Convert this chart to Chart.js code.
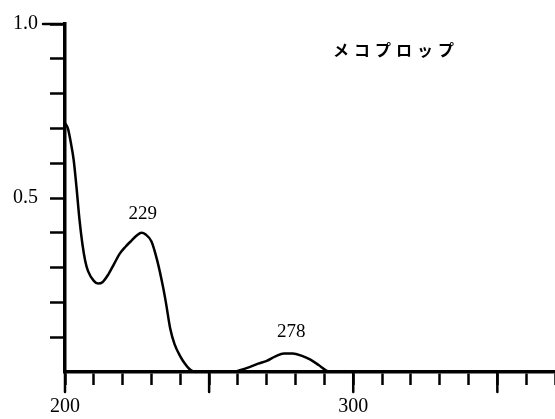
<!DOCTYPE html>
<html>
<head>
<meta charset="utf-8">
<script src="https://cdn.jsdelivr.net/npm/chart.js@4/dist/chart.umd.min.js"></script>
<style>
  html, body { margin: 0; padding: 0; background: #fff; }
  #wrap { width: 555px; height: 419px; position: relative; }
</style>
</head>
<body>
<div id="wrap"><canvas id="spectrum"></canvas></div>
<script>
// wavelength (nm) and absorbance
const wavelengths = [200, 201, 202, 203, 204, 205, 206, 207, 208, 210, 211.5, 213, 215, 217, 219, 221, 223, 225, 226.5, 228, 230, 232, 234, 235, 236.5, 238, 240, 241.5, 243, 245, 258, 261, 264, 267, 270, 273, 276, 279, 282, 285, 288, 290.5, 292, 370];
const absorbance  = [0.715, 0.70, 0.66, 0.61, 0.53, 0.44, 0.37, 0.32, 0.29, 0.262, 0.254, 0.258, 0.28, 0.31, 0.34, 0.36, 0.377, 0.393, 0.40, 0.395, 0.375, 0.32, 0.245, 0.20, 0.125, 0.08, 0.045, 0.025, 0.01, 0, 0, 0.006, 0.014, 0.024, 0.032, 0.045, 0.053, 0.053, 0.047, 0.036, 0.02, 0.005, 0, 0];

const peakLabels = ["229", "278"];
const peakLabelX = [227, 278.5];
const peakLabelY = [0.453, 0.114];

const compoundName = "メコプロップ";
const xLabeled = [200, 300];
const yLabeled = [0.5, 1.0];
const xLongTicks = [200, 250, 300, 350];

const ink = "#000";
const serif = "'Liberation Serif', 'DejaVu Serif', serif";

const points = wavelengths.map((w, i) => ({ x: w, y: absorbance[i] }));

// extra marks: longer ticks, peak labels, compound name
const extras = {
  id: "extras",
  afterDraw(chart) {
    const ctx = chart.ctx;
    const xs = chart.scales.x, ys = chart.scales.y;
    const area = chart.chartArea;
    ctx.save();
    ctx.strokeStyle = ink;
    ctx.lineWidth = 2.5;
    ctx.lineCap = "round";
    // long x ticks
    xLongTicks.forEach(v => {
      const px = xs.getPixelForValue(v);
      ctx.beginPath();
      ctx.moveTo(px, area.bottom);
      ctx.lineTo(px, area.bottom + 20);
      ctx.stroke();
    });
    // corner tick at 1.0
    const top = ys.getPixelForValue(1.0);
    ctx.beginPath();
    ctx.moveTo(area.left, top);
    ctx.lineTo(area.left - 22, top);
    ctx.stroke();

    ctx.fillStyle = ink;
    ctx.textAlign = "center";
    ctx.textBaseline = "middle";
    ctx.font = "19px " + serif;
    peakLabels.forEach((t, i) => {
      ctx.fillText(t, xs.getPixelForValue(peakLabelX[i]), ys.getPixelForValue(peakLabelY[i]));
    });

    ctx.font = "bold 16px 'Noto Sans CJK JP', sans-serif";
    ctx.letterSpacing = "5px";
    ctx.textAlign = "left";
    ctx.fillText(compoundName, 333, 50);
    ctx.restore();
  }
};

new Chart(document.getElementById("spectrum"), {
  type: "line",
  data: {
    datasets: [{
      data: points,
      borderColor: ink,
      borderWidth: 2.5,
      pointRadius: 0,
      fill: false,
      cubicInterpolationMode: "monotone"
    }]
  },
  options: {
    responsive: true,
    maintainAspectRatio: false,
    animation: false,
    events: [],
    layout: { padding: { top: 21, right: 0, left: 0, bottom: 0 } },
    plugins: { legend: { display: false }, tooltip: { enabled: false } },
    scales: {
      x: {
        type: "linear",
        min: 200,
        max: 370,
        afterFit(scale) {
          scale.height = 47;
          scale.paddingLeft = 0;
          scale.paddingRight = 0;
        },
        border: { display: true, color: ink, width: 3.5 },
        grid: {
          drawOnChartArea: false,
          tickLength: 13,
          tickWidth: 2.5,
          tickColor: ink
        },
        ticks: {
          stepSize: 10,
          autoSkip: false,
          maxRotation: 0,
          padding: 10,
          color: ink,
          font: { family: serif, size: 20 },
          callback: v => xLabeled.includes(v) ? String(v) : ""
        }
      },
      y: {
        min: 0,
        max: 1.0,
        afterFit(scale) { scale.width = 65; },
        border: { display: true, color: ink, width: 3.5 },
        grid: {
          drawOnChartArea: false,
          tickLength: 15,
          tickWidth: 2.5,
          tickColor: ctx => ctx.tick && ctx.tick.value === 0 ? "rgba(0,0,0,0)" : ink
        },
        ticks: {
          stepSize: 0.1,
          autoSkip: false,
          padding: 12,
          color: ink,
          font: { family: serif, size: 20 },
          callback: v => yLabeled.some(l => Math.abs(l - v) < 1e-6) ? v.toFixed(1) : ""
        }
      }
    }
  },
  plugins: [extras]
});
</script>
</body>
</html>
